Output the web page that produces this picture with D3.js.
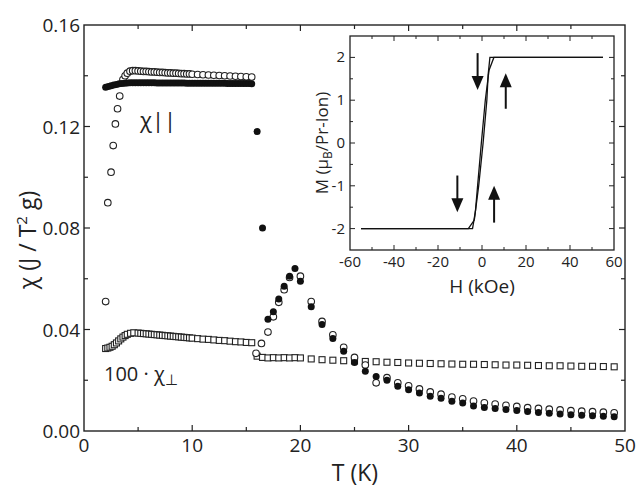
<!DOCTYPE html>
<html lang="en">
<head>
  <meta charset="utf-8">
  <title>Susceptibility</title>
  <style>
    body { margin: 0; background: #fff; }
    svg text { font-family: "Open Sans", "Liberation Sans", sans-serif; fill: #222; }
    .frame { fill: none; stroke: #222; stroke-width: 1.4; }
    .tick line { stroke: #222; stroke-width: 1.2; }
  </style>
</head>
<body>
  <div id="chart"></div>

  <script src="https://d3js.org/d3.v7.min.js"></script>
  <script>
    // chi parallel, filled circles (field cooled)
    var fillT = [2,2.25,2.5,2.75,3,3.25,3.5,3.75,4,4.25,4.5,4.75,5,5.25,5.5,5.75,6,6.25,6.5,6.75,7,7.25,7.5,7.75,8,8.25,8.5,8.75,9,9.25,9.5,9.75,10,10.25,10.5,10.75,11,11.25,11.5,11.75,12,12.25,12.5,12.75,13,13.25,13.5,13.75,14,14.25,14.5,14.75,15,15.25,15.5,
                 16,16.5,17,17.5,18,18.5,19,19.5,20,21,22,23,24,25,26,27,28,29,30,31,32,33,34,35,36,37,38,39,40,41,42,43,44,45,46,47,48,49];
    var fillV = [0.1355,0.1358,0.1361,0.1364,0.1366,0.1368,0.1369,0.137,0.1371,0.1372,0.1372,0.1372,0.1372,0.1372,0.1372,0.1372,0.1372,0.1372,0.1372,0.1371,0.1371,0.1371,0.1371,0.1371,0.1371,0.1371,0.1371,0.1371,0.1371,0.1371,0.137,0.137,0.137,0.137,0.137,0.137,0.137,0.137,0.137,0.137,0.137,0.137,0.137,0.137,0.137,0.1369,0.1369,0.1369,0.1369,0.1369,0.1369,0.1369,0.1369,0.1369,0.1368,
                 0.118,0.080,0.044,0.047,0.052,0.057,0.061,0.064,0.059,0.049,0.042,0.0365,0.0314,0.027,0.0235,0.0215,0.020,0.0176,0.0163,0.015,0.0137,0.0129,0.0117,0.011,0.0099,0.0093,0.0089,0.0085,0.0081,0.0077,0.0073,0.007,0.0067,0.0064,0.0062,0.006,0.0058,0.0056];

    // chi parallel, open circles (zero field cooled)
    var openT = [2,2.2,2.5,2.7,2.9,3.1,3.3,3.6,3.8,4,4.25,4.5,4.75,5,5.25,5.5,5.75,6,6.25,6.5,6.75,7,7.25,7.5,7.75,8,8.25,8.5,8.75,9,9.25,9.5,9.75,10,10.5,11,11.5,12,12.5,13,13.5,14,14.5,15,15.5,
                 15.9,16.4,17,17.5,18,18.5,19,20,21,22,23,24,25,26,27,28,29,30,31,32,33,34,35,36,37,38,39,40,41,42,43,44,45,46,47,48,49];
    var openV = [0.051,0.090,0.102,0.1125,0.121,0.127,0.132,0.1385,0.140,0.141,0.1418,0.142,0.142,0.1419,0.1418,0.1417,0.1417,0.1416,0.1415,0.1415,0.1414,0.1413,0.1413,0.1412,0.1411,0.1411,0.141,0.141,0.1409,0.1408,0.1408,0.1407,0.1407,0.1406,0.1405,0.1404,0.1403,0.1402,0.1401,0.14,0.1399,0.1398,0.1397,0.1396,0.1395,
                 0.0306,0.0345,0.039,0.045,0.0507,0.0557,0.0605,0.061,0.051,0.0432,0.0379,0.033,0.029,0.026,0.019,0.021,0.019,0.0178,0.0166,0.0154,0.0145,0.0134,0.0127,0.0118,0.0111,0.0106,0.0101,0.0097,0.0092,0.0089,0.0086,0.0083,0.008,0.0078,0.0076,0.0074,0.0072];

    // 100 * chi perpendicular, open squares
    var sqT = [2,2.2,2.4,2.6,2.8,3,3.2,3.4,3.6,3.8,4,4.3,4.6,5,5.25,5.5,5.75,6,6.25,6.5,6.75,7,7.25,7.5,7.75,8,8.25,8.5,8.75,9,9.25,9.5,9.75,10,10.5,11,11.5,12,12.5,13,13.5,14,14.5,15,15.5,
               16,16.5,17,17.5,18,18.5,19,19.5,20,21,22,23,24,25,26,27,28,29,30,31,32,33,34,35,36,37,38,39,40,41,42,43,44,45,46,47,48,49];
    var sqV = [0.0325,0.0327,0.033,0.0334,0.034,0.0347,0.0355,0.0363,0.037,0.0376,0.0381,0.0385,0.0387,0.0386,0.0385,0.0384,0.0383,0.0382,0.0381,0.038,0.0379,0.0378,0.0377,0.0376,0.0375,0.0374,0.0373,0.0372,0.0371,0.037,0.0369,0.0368,0.0367,0.0366,0.0364,0.0362,0.0361,0.0359,0.0357,0.0356,0.0354,0.0352,0.0351,0.0349,0.0348,
               0.0295,0.029,0.0288,0.0289,0.0288,0.0289,0.0288,0.0289,0.0288,0.0284,0.0281,0.0279,0.0277,0.0276,0.0274,0.0273,0.0271,0.027,0.0268,0.0267,0.0266,0.0265,0.0264,0.0263,0.0263,0.0262,0.0261,0.026,0.026,0.0259,0.0258,0.0257,0.0257,0.0256,0.0255,0.0255,0.0254,0.0253];

    var xTicks = [0, 10, 20, 30, 40, 50];
    var yTicks = [0, 0.04, 0.08, 0.12, 0.16];

    // inset: magnetisation loop, two branches
    var branchDownH = [55, 3.6, 2.8, 2.2, 0.5, -1.5, -3.5, -6.2, -55];
    var branchDownM = [2, 2, 1.6, 1.0, 0, -1, -1.8, -2, -2];
    var branchUpH = [-55, -4.3, -3, -2, -0.3, 1.5, 3.2, 5.4, 55];
    var branchUpM = [-2, -2, -1.6, -1, 0, 1, 1.7, 2, 2];
    var arrowH = [-2, 10.8, -11.2, 5.5];
    var arrowFrom = [2.1, 0.8, -0.76, -1.86];
    var arrowTo = [1.24, 1.63, -1.62, -1.0];
    var insetXTicks = [-60, -40, -20, 0, 20, 40, 60];
    var insetYTicks = [-2, -1, 0, 1, 2];

    var W = 639, H = 489;
    var svg = d3.select("#chart").append("svg").attr("width", W).attr("height", H);

    var x = d3.scaleLinear().domain([0, 50]).range([84, 625]);
    var y = d3.scaleLinear().domain([0, 0.16]).range([431, 25]);

    // frame
    svg.append("rect").attr("class", "frame")
      .attr("x", 84).attr("y", 25).attr("width", 541).attr("height", 406);

    function ticksOn(g, scale, vals, len, orient) {
      g.selectAll("line.t" + orient + len).data(vals).enter().append("line")
        .attr("stroke", "#222").attr("stroke-width", 1.2)
        .each(function(d) {
          var s = d3.select(this), p = scale(d);
          if (orient === "b") s.attr("x1", p).attr("x2", p).attr("y1", 431).attr("y2", 431 - len);
          if (orient === "t") s.attr("x1", p).attr("x2", p).attr("y1", 25).attr("y2", 25 + len);
          if (orient === "l") s.attr("y1", p).attr("y2", p).attr("x1", 84).attr("x2", 84 + len);
          if (orient === "r") s.attr("y1", p).attr("y2", p).attr("x1", 625).attr("x2", 625 - len);
        });
    }
    var xMinor = d3.range(5, 50, 10), yMinor = [0.02, 0.06, 0.10, 0.14];
    ["b", "t"].forEach(function(o) { ticksOn(svg, x, xTicks.slice(1, -1), 6, o); ticksOn(svg, x, xMinor, 4, o); });
    ["l", "r"].forEach(function(o) { ticksOn(svg, y, yTicks.slice(1, -1), 6, o); ticksOn(svg, y, yMinor, 4, o); });

    svg.selectAll(".xl").data(xTicks).enter().append("text")
      .attr("x", function(d) { return x(d); }).attr("y", 452)
      .attr("text-anchor", "middle").attr("font-size", 19).text(function(d) { return d; });
    svg.selectAll(".yl").data(yTicks).enter().append("text")
      .attr("x", 80).attr("y", function(d) { return y(d) + 7; })
      .attr("text-anchor", "end").attr("font-size", 19).text(function(d) { return d.toFixed(2); });

    svg.append("text").attr("x", 355).attr("y", 481).attr("text-anchor", "middle")
      .attr("font-size", 23).text("T (K)");
    var yl = svg.append("text").attr("transform", "translate(36,240) rotate(-90)")
      .attr("text-anchor", "middle").attr("font-size", 23);
    yl.append("tspan").text("χ (J / T");
    yl.append("tspan").attr("dy", -9).attr("font-size", 15).text("2");
    yl.append("tspan").attr("dy", 9).text(" g)");

    // squares
    svg.selectAll(".sq").data(sqT).enter().append("rect")
      .attr("x", function(d) { return x(d) - 3; })
      .attr("y", function(d, i) { return y(sqV[i]) - 3; })
      .attr("width", 6).attr("height", 6)
      .attr("fill", "#fff").attr("stroke", "#222").attr("stroke-width", 1.1);

    // open circles
    svg.selectAll(".oc").data(openT).enter().append("circle")
      .attr("cx", function(d) { return x(d); })
      .attr("cy", function(d, i) { return y(openV[i]); })
      .attr("r", 3.3).attr("fill", "#fff").attr("stroke", "#222").attr("stroke-width", 1.1);

    // filled circles
    svg.selectAll(".fc").data(fillT).enter().append("circle")
      .attr("cx", function(d) { return x(d); })
      .attr("cy", function(d, i) { return y(fillV[i]); })
      .attr("r", 3.5).attr("fill", "#111");

    svg.append("text").attr("x", 140).attr("y", 128).attr("font-size", 22).text("χ||");
    var pl = svg.append("text").attr("x", 104).attr("y", 381).attr("font-size", 20);
    pl.append("tspan").text("100 · χ");
    pl.append("tspan").attr("dy", 4).attr("font-size", 15).text("⊥");

    // inset
    var ix = d3.scaleLinear().domain([-60, 60]).range([350, 614]);
    var iy = d3.scaleLinear().domain([-2.5, 2.5]).range([250, 36]);
    var inset = svg.append("g");
    inset.append("rect").attr("x", 350).attr("y", 36).attr("width", 264).attr("height", 214)
      .attr("fill", "#fff").attr("stroke", "#222").attr("stroke-width", 1.3);

    var ixMinor = d3.range(-50, 60, 10), iyMinor = d3.range(-2, 2.5, 0.5);
    ixMinor.forEach(function(d) {
      var len = d % 20 === 0 ? 5 : 3;
      inset.append("line").attr("x1", ix(d)).attr("x2", ix(d)).attr("y1", 250).attr("y2", 250 - len).attr("stroke", "#222");
      inset.append("line").attr("x1", ix(d)).attr("x2", ix(d)).attr("y1", 36).attr("y2", 36 + len).attr("stroke", "#222");
    });
    iyMinor.forEach(function(d) {
      var len = d % 1 === 0 ? 5 : 3;
      inset.append("line").attr("y1", iy(d)).attr("y2", iy(d)).attr("x1", 350).attr("x2", 350 + len).attr("stroke", "#222");
      inset.append("line").attr("y1", iy(d)).attr("y2", iy(d)).attr("x1", 614).attr("x2", 614 - len).attr("stroke", "#222");
    });
    inset.selectAll(".ixl").data(insetXTicks).enter().append("text")
      .attr("x", function(d) { return ix(d); }).attr("y", 267)
      .attr("text-anchor", "middle").attr("font-size", 15).text(function(d) { return d; });
    inset.selectAll(".iyl").data(insetYTicks).enter().append("text")
      .attr("x", 345).attr("y", function(d) { return iy(d) + 5; })
      .attr("text-anchor", "end").attr("font-size", 15).text(function(d) { return d; });
    inset.append("text").attr("x", 482).attr("y", 293).attr("text-anchor", "middle")
      .attr("font-size", 19).text("H (kOe)");
    var ml = inset.append("text").attr("transform", "translate(328,143) rotate(-90)")
      .attr("text-anchor", "middle").attr("font-size", 17);
    ml.append("tspan").text("M (μ");
    ml.append("tspan").attr("dy", 4).attr("font-size", 12).text("B");
    ml.append("tspan").attr("dy", -4).text("/Pr-Ion)");

    var line = d3.line().x(function(d) { return ix(d[0]); }).y(function(d) { return iy(d[1]); });
    [[branchDownH, branchDownM], [branchUpH, branchUpM]].forEach(function(b) {
      inset.append("path").datum(d3.zip(b[0], b[1])).attr("d", line)
        .attr("fill", "none").attr("stroke", "#111").attr("stroke-width", 1.3);
    });

    arrowH.forEach(function(h, i) {
      var x0 = ix(h), y0 = iy(arrowFrom[i]), y1 = iy(arrowTo[i]);
      var dir = y1 > y0 ? 1 : -1;
      inset.append("line").attr("x1", x0).attr("x2", x0).attr("y1", y0).attr("y2", y1 - dir * 12)
        .attr("stroke", "#111").attr("stroke-width", 2);
      inset.append("path")
        .attr("d", "M" + (x0 - 6) + "," + (y1 - dir * 14) + "L" + (x0 + 6) + "," + (y1 - dir * 14) + "L" + x0 + "," + y1 + "Z")
        .attr("fill", "#111");
    });
  </script>
</body>
</html>
